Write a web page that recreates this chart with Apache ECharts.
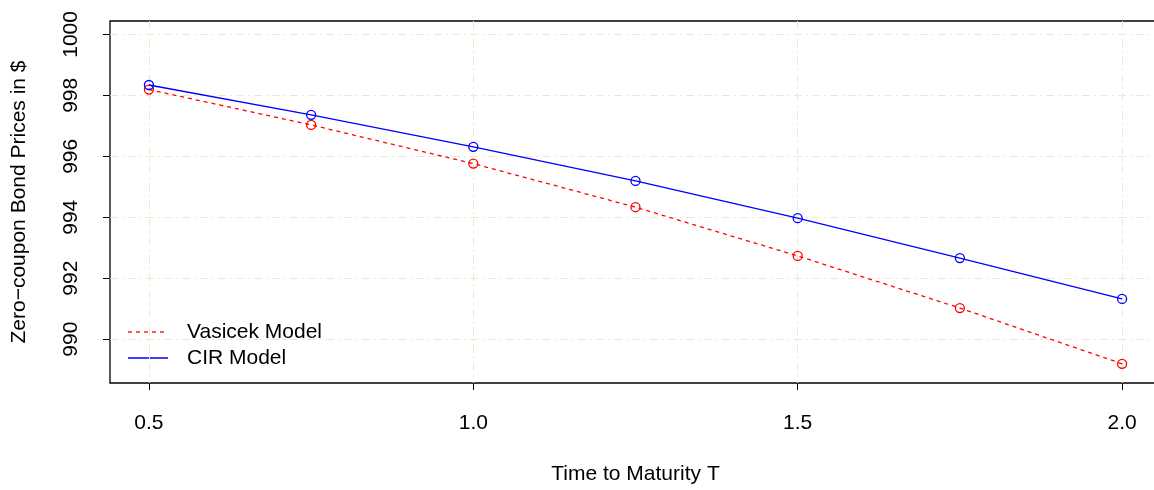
<!DOCTYPE html>
<html>
<head>
<meta charset="UTF-8">
<title>Zero-coupon Bond Prices</title>
<script src="https://cdn.jsdelivr.net/npm/echarts@6/dist/echarts.min.js"></script>
<style>
  body { margin: 0; background: #fff; overflow: hidden; }
  /* the plot box runs past the right edge of the window, as in the reference */
  #chart { width: 1162px; height: 490px; }
</style>
</head>
<body>
<div id="chart"></div>
<script>
// maturities and prices
const maturity = [0.5, 0.75, 1.0, 1.25, 1.5, 1.75, 2.0];
const vasicek = [998.19, 997.03, 995.76, 994.33, 992.73, 991.02, 989.19];
const cir = [998.34, 997.36, 996.31, 995.19, 993.97, 992.66, 991.32];
const xTicks = [0.5, 1.0, 1.5, 2.0];
const yTicks = [990, 992, 994, 996, 998, 1000];

const font = 'Liberation Sans, Arial, sans-serif';
const fs = 21;
const gridLine = { color: '#eee8cd', width: 1, type: [8, 4, 2, 4] };

const chart = echarts.init(document.getElementById('chart'));
chart.setOption({
  animation: false,
  grid: { left: 110, right: 1, top: 21, bottom: 106, show: true, borderColor: '#000', borderWidth: 1.3 },
  xAxis: {
    type: 'value', min: 0.44, max: 2.06,
    name: 'Time to Maturity T', nameLocation: 'middle', nameGap: 81,
    nameTextStyle: { fontFamily: font, fontSize: fs, color: '#000' },
    axisLine: { show: false },
    axisTick: { show: true, length: 7, customValues: xTicks, lineStyle: { color: '#000' } },
    axisLabel: { customValues: xTicks, margin: 30, fontFamily: font, fontSize: fs, color: '#000',
      formatter: v => v.toFixed(1) },
    splitLine: { show: true, lineStyle: gridLine }
  },
  yAxis: {
    type: 'value', min: 988.56, max: 1000.44,
    name: 'Zero\u2212coupon Bond Prices in $', nameLocation: 'middle', nameGap: 80,
    nameTextStyle: { fontFamily: font, fontSize: fs, color: '#000' },
    axisLine: { show: false },
    axisTick: { show: true, length: 7, customValues: yTicks, lineStyle: { color: '#000' } },
    axisLabel: { customValues: yTicks, rotate: 90, margin: 28, fontFamily: font, fontSize: fs, color: '#000',
      formatter: v => String(v) },
    splitLine: { show: true, lineStyle: gridLine }
  },
  series: [
    {
      name: 'Vasicek Model', type: 'line',
      data: maturity.map((t, i) => [t, vasicek[i]]),
      symbol: 'circle', symbolSize: 9,
      itemStyle: { color: 'rgba(0,0,0,0)', borderColor: '#ff0000', borderWidth: 1.3 },
      lineStyle: { color: '#ff0000', width: 1.3, type: [4, 4] },
      z: 3
    },
    {
      name: 'CIR Model', type: 'line',
      data: maturity.map((t, i) => [t, cir[i]]),
      symbol: 'circle', symbolSize: 9,
      itemStyle: { color: 'rgba(0,0,0,0)', borderColor: '#0000ff', borderWidth: 1.3 },
      lineStyle: { color: '#0000ff', width: 1.3 },
      z: 4
    }
  ],
  graphic: [
    { type: 'line', shape: { x1: 128, y1: 332, x2: 168, y2: 332 },
      style: { stroke: '#ff0000', lineWidth: 1.3, lineDash: [4, 4] } },
    { type: 'text', x: 187, y: 332,
      style: { text: 'Vasicek Model', font: fs + 'px ' + font, fill: '#000', verticalAlign: 'middle' } },
    { type: 'line', shape: { x1: 128, y1: 358, x2: 168, y2: 358 },
      style: { stroke: '#0000ff', lineWidth: 1.3 } },
    { type: 'text', x: 187, y: 358,
      style: { text: 'CIR Model', font: fs + 'px ' + font, fill: '#000', verticalAlign: 'middle' } }
  ]
});
</script>
</body>
</html>
